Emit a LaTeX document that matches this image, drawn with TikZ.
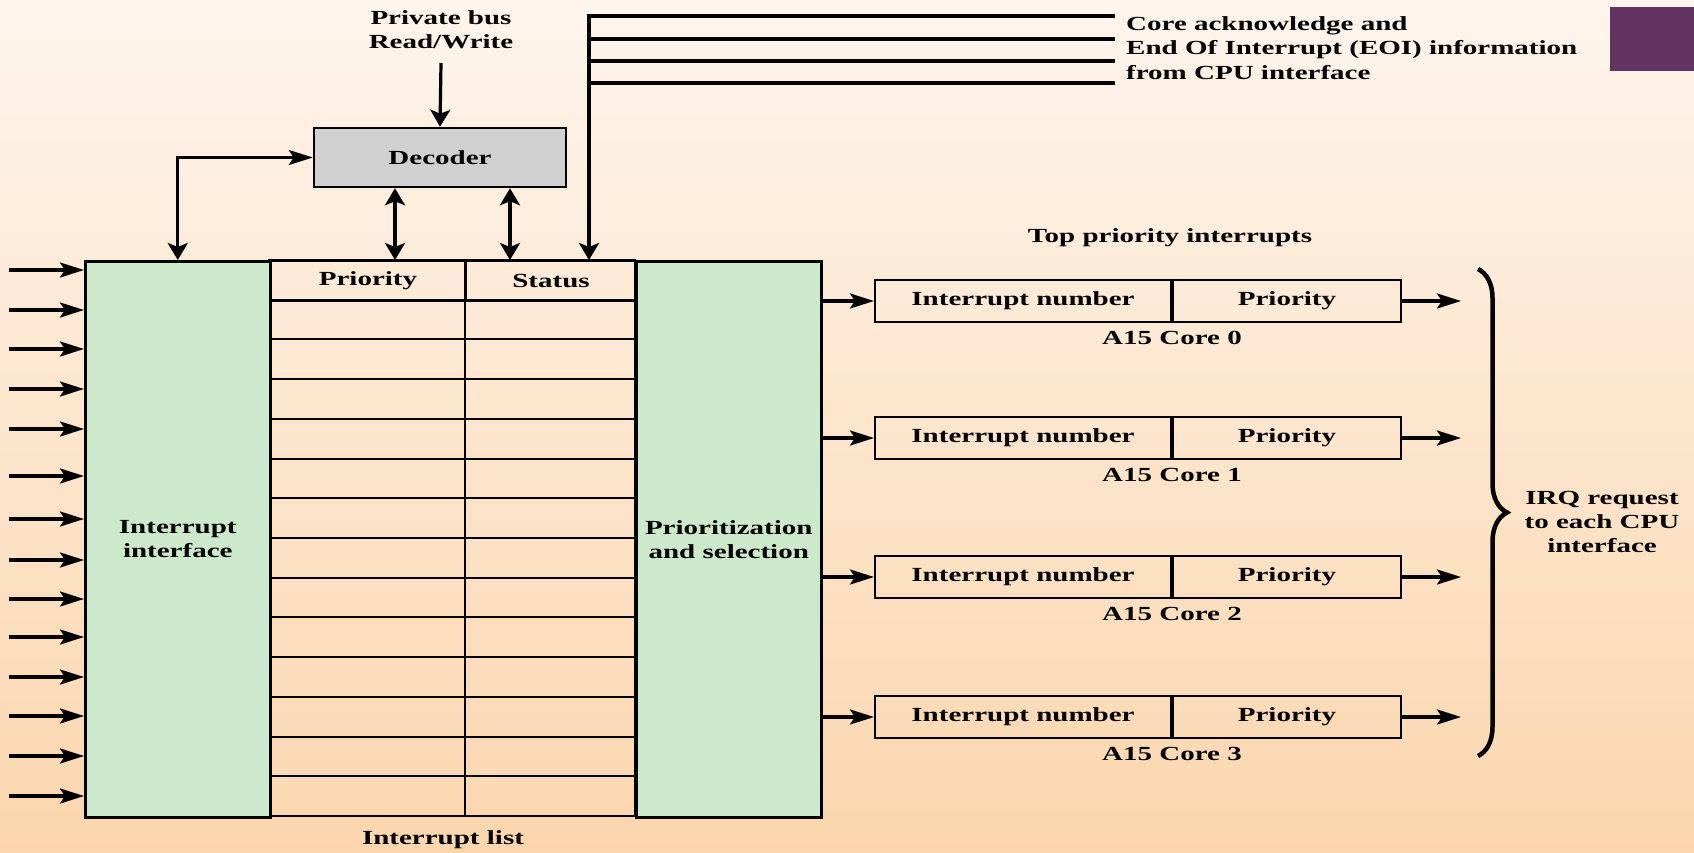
\documentclass[tikz,border=0pt]{standalone}
\usepackage{fontspec}
\setmainfont{Liberation Serif}[FakeStretch=1.45]
\usetikzlibrary{arrows.meta,decorations.pathreplacing,calc}
\definecolor{bgtop}{RGB}{254,245,237}
\definecolor{bgbot}{RGB}{251,214,173}
\definecolor{blockgreen}{RGB}{204,233,204}
\definecolor{decgray}{RGB}{208,208,208}
\definecolor{tabpurple}{RGB}{99,52,98}

\begin{document}
\begin{tikzpicture}[x=1pt,y=-1pt,
  font=\fontsize{20}{24}\selectfont\bfseries,
  wire/.style={line width=3.2pt},
  htip/.tip={Stealth[length=24pt,width=15pt,inset=5pt]},
  vtip/.tip={Stealth[length=17pt,width=20pt,inset=4pt]},
  harrow/.style={wire,-htip},
  varrow/.style={wire,-vtip},
  vboth/.style={wire,vtip-vtip},
  block/.style={draw,line width=2.5pt,fill=blockgreen,minimum width=185pt,
    minimum height=556pt,anchor=north west,align=center,inner sep=0pt},
  cell/.style={draw,line width=2pt,minimum height=42pt,anchor=north west,inner sep=0pt},
  hcell/.style={draw,line width=2pt,minimum height=39.7pt,anchor=north west,inner sep=0pt},
  lbl/.style={align=center,inner sep=0pt},
]
% background
\shade[top color=bgtop,bottom color=bgbot] (0,0) rectangle (1694,852);
\useasboundingbox (0,0) rectangle (1694,852);
\fill[tabpurple] (1610,7) rectangle (1694,71);

% interrupt list table
\foreach \i in {1,...,13}
  \draw[line width=2pt] (269,{260+39.714*\i}) -- (635,{260+39.714*\i});
\draw[line width=2pt] (269,260) rectangle (635,816);
\draw[line width=2pt] (465,260) -- (465,816);
\node[hcell,minimum width=196pt] (hp) at (269,260) {Priority};
\node[hcell,minimum width=170pt] (hs) at (465,260) {Status};

% side blocks
\node[block] (iface) at (84,260) {Interrupt\\interface};
\node[block] (prio) at (635,260) {Prioritization\\and selection};
\node[lbl] (ilist) at (443,840) {Interrupt list};

% decoder and bus
\node[draw,line width=2.5pt,fill=decgray,minimum width=252pt,minimum height=59pt] (dec) at (440,157.5) {Decoder};
\node[lbl] (bus) at (441,30) {Private bus\\Read/Write};
\coordinate (busin) at (441,63);
\draw[varrow] (busin) -- (dec.north);
\draw[wire,htip-vtip] (dec.west) -| (iface.north);
\coordinate (pcon) at (395,260);
\coordinate (scon) at (510,260);
\draw[vboth] (dec.south -| pcon) -- (pcon);
\draw[vboth] (dec.south -| scon) -- (scon);

% acknowledge / EOI feedback
\coordinate (fb) at (589,16);
\foreach \k/\y in {1/16,2/39,3/61,4/83}
  \coordinate (ack\k) at (1115,\y);
\draw[varrow] (ack1) -- (fb) -- (fb |- hs.north);
\foreach \k in {2,3,4}
  \draw[wire] (ack\k) -- (ack\k -| fb);
\node[lbl,anchor=west,align=left,font=\fontsize{20}{24.5}\selectfont\bfseries] (eoi) at (1126,48)
  {Core acknowledge and\\End Of Interrupt (EOI) information\\from CPU interface};

% per-core top priority registers
\node[lbl] (toplbl) at (1170,238) {Top priority interrupts};
\foreach \k/\y in {0/279,1/416,2/555,3/695} {
  \node[cell,minimum width=296pt] (num\k) at (874,\y) {Interrupt number};
  \node[cell,minimum width=228pt] (pri\k) at (num\k.north east) {Priority};
  \node[lbl] (core\k) at ([yshift=-15pt]num\k.south east) {A15 Core \k};
  \draw[harrow] (num\k.west -| prio.east) -- (num\k.west);
  \coordinate (irq\k) at ($(pri\k.east)+(59,0)$);
  \draw[harrow] (pri\k.east) -- (irq\k);
}

% IRQ brace
\draw[line width=4.5pt,decorate,decoration={brace,amplitude=29pt}] (1478,269) -- (1478,756);
\node[lbl] (irq) at (1602,522) {IRQ request\\to each CPU\\interface};

% interrupt inputs
\foreach \k/\y in {1/270,2/310,3/349,4/389,5/429,6/476,7/519,8/560,9/599,10/637,11/677,12/716,13/756,14/796} {
  \coordinate (in\k) at (9,\y);
  \draw[harrow] (in\k) -- (in\k -| iface.west);
}
\end{tikzpicture}
\end{document}
